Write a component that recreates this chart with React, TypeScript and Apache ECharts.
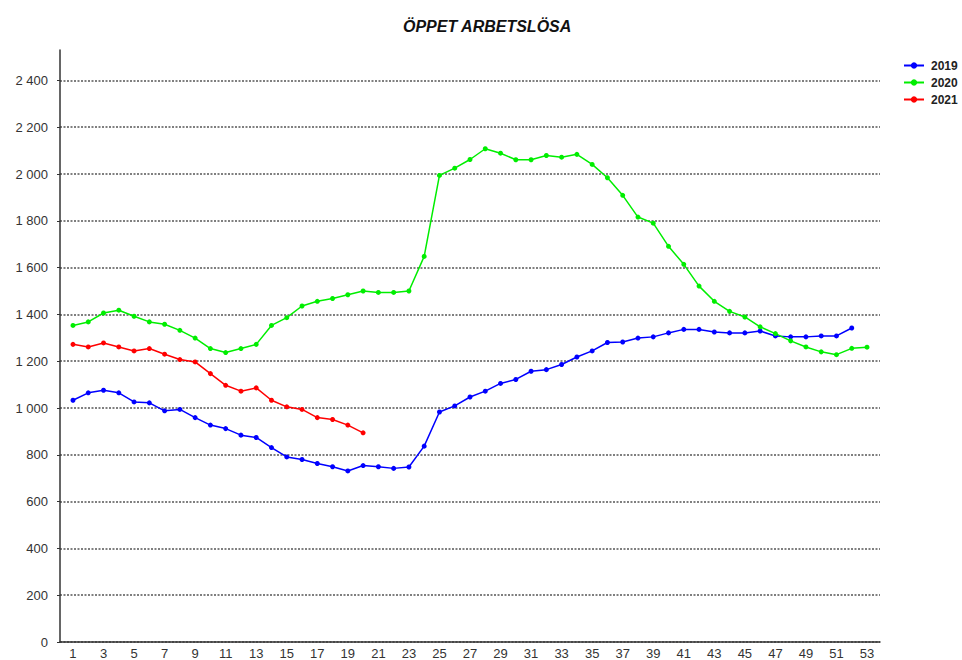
import React, { useEffect, useRef } from "react";
import * as echarts from "echarts";

const weeks: number[] = Array.from({ length: 53 }, (_, i) => i + 1);
const xTickLabels: number[] = [1, 3, 5, 7, 9, 11, 13, 15, 17, 19, 21, 23, 25, 27, 29, 31, 33, 35, 37, 39, 41, 43, 45, 47, 49, 51, 53];

const values2019: number[] = [
  1033, 1065, 1076, 1065, 1026, 1022, 988, 994, 959, 927,
  912, 884, 874, 831, 791, 780, 763, 749, 731, 754,
  749, 742, 748, 837, 983, 1009, 1047, 1072, 1105, 1122,
  1157, 1164, 1186, 1218, 1244, 1280, 1282, 1299, 1304, 1321,
  1336, 1336, 1325, 1321, 1321, 1329, 1308, 1304, 1304, 1308,
  1308, 1342,
];
const values2020: number[] = [
  1353, 1368, 1406, 1418, 1392, 1368, 1358, 1332, 1299, 1254,
  1237, 1254, 1272, 1353, 1386, 1436, 1456, 1468, 1484, 1500,
  1494, 1494, 1500, 1648, 1994, 2025, 2062, 2108, 2089, 2061,
  2061, 2079, 2072, 2084, 2041, 1984, 1909, 1816, 1790, 1691,
  1614, 1521, 1456, 1413, 1389, 1347, 1318, 1287, 1261, 1240,
  1228, 1255, 1260,
];
const values2021: number[] = [
  1272, 1261, 1278, 1261, 1244, 1254, 1230, 1207, 1197, 1147,
  1097, 1072, 1086, 1033, 1005, 994, 959, 951, 927, 894,
];
const seriesNames: string[] = ["2019", "2020", "2021"];
const seriesColors: string[] = ["#0000ff", "#00ee00", "#ff0000"];
const yTickLabels: number[] = [0, 200, 400, 600, 800, 1000, 1200, 1400, 1600, 1800, 2000, 2200, 2400];

const pairs = (vals: number[]) => vals.map((v, i) => [weeks[i], v]);

export default function App() {
  const ref = useRef<HTMLDivElement>(null);
  useEffect(() => {
    if (!ref.current) return;
    const chart = echarts.init(ref.current, null, { renderer: "svg" });
    const allValues = [values2019, values2020, values2021];
    chart.setOption({
      animation: false,
      backgroundColor: "#ffffff",
      title: {
        text: "ÖPPET ARBETSLÖSA",
        left: 398,
        top: 13,
        textStyle: {
          fontFamily: "Liberation Sans, Arial, sans-serif",
          fontSize: 16,
          fontWeight: "bold",
          fontStyle: "italic",
          color: "#111",
        },
      },
      legend: {
        orient: "vertical",
        left: 898,
        top: 54,
        itemWidth: 20,
        itemHeight: 8,
        itemGap: 4,
        data: seriesNames,
        textStyle: {
          fontFamily: "Liberation Sans, Arial, sans-serif",
          fontSize: 12,
          fontWeight: "bold",
          color: "#222",
          lineHeight: 13,
          padding: [0, 0, 0, 2],
        },
      },
      grid: { left: 60, right: 82, top: 50, bottom: 18, containLabel: false },
      xAxis: {
        type: "value",
        min: 0.15,
        max: 53.85,
        splitLine: { show: false },
        axisLine: { show: true, lineStyle: { color: "#333", width: 1.5 } },
        axisTick: { show: false },
        axisLabel: {
          customValues: xTickLabels,
          margin: 5,
          fontFamily: "Liberation Sans, Arial, sans-serif",
          fontSize: 13,
          color: "#333",
        },
      },
      yAxis: {
        type: "value",
        min: 0,
        max: 2530,
        axisLine: { show: true, lineStyle: { color: "#333", width: 1.5 } },
        axisTick: { show: true, customValues: yTickLabels, length: 3, lineStyle: { color: "#333" } },
        axisLabel: {
          customValues: yTickLabels,
          margin: 12,
          fontFamily: "Liberation Sans, Arial, sans-serif",
          fontSize: 13,
          color: "#333",
          formatter: (v: number) => String(v).replace(/\B(?=(\d{3})+(?!\d))/g, " "),
        },
        splitLine: {
          show: true,
          lineStyle: { color: "#555", width: 1.6, type: [2, 1.5] },
        },
        interval: 200,
      },
      series: seriesNames.map((name, k) => ({
        name,
        type: "line",
        data: pairs(allValues[k]),
        symbol: "circle",
        symbolSize: 5,
        showSymbol: true,
        color: seriesColors[k],
        lineStyle: { width: 1.5, color: seriesColors[k] },
        itemStyle: { color: seriesColors[k] },
      })),
    });
    return () => chart.dispose();
  }, []);
  return (
    <div
      ref={ref}
      style={{ position: "absolute", left: 0, top: 0, width: 962, height: 660 }}
    />
  );
}
